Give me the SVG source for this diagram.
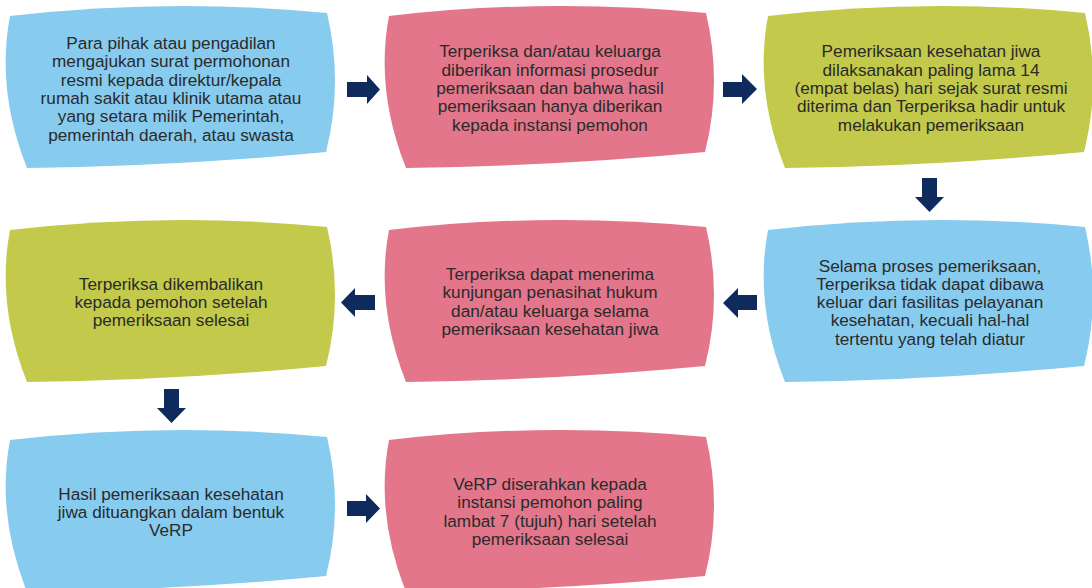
<svg xmlns="http://www.w3.org/2000/svg" xmlns:xlink="http://www.w3.org/1999/xlink" width="1092" height="588" viewBox="0 0 1092 588">
<style>
.blue{fill:#87CBEF}
.pink{fill:#E3768A}
.green{fill:#C2C94B}
.arrow{fill:#0F2B5D}
text{font-family:"Liberation Sans",Arial,sans-serif;font-size:17.2px;fill:#2A2A2A;text-anchor:middle}
</style>
<defs>
<path id="card" d="M10,16 Q170,-2.5 327,13 Q343.5,83 326,152 Q180,166 27,168 Q-4,90 10,16 Z"/>
</defs>
<rect width="1092" height="588" fill="#FFFFFF"/>
<g id="connectors">
<polygon class="arrow" points="347,82 367,82 367,75 380,89.5 367,104 367,97 347,97"/>
<polygon class="arrow" points="723,82 742,82 742,74 757,89 742,104 742,97 723,97"/>
<polygon class="arrow" points="922,178 937,178 937,197 944,197 929.5,212 915,197 922,197"/>
<polygon class="arrow" points="757,295 738,295 738,288 723,303 738,318 738,310 757,310"/>
<polygon class="arrow" points="375,295 355,295 355,288 341,302.5 355,317 355,310 375,310"/>
<polygon class="arrow" points="164,389 179,389 179,408 186,408 171.5,423 157,408 164,408"/>
<polygon class="arrow" points="347,501 366,501 366,494 380,508.5 366,523 366,516 347,516"/>
</g>
<g id="node1">
<use xlink:href="#card" class="blue"/>
<text x="171" y="49">Para pihak atau pengadilan</text>
<text x="171" y="67.3">mengajukan surat permohonan</text>
<text x="171" y="85.6">resmi kepada direktur/kepala</text>
<text x="171" y="104">rumah sakit atau klinik utama atau</text>
<text x="171" y="122.3">yang setara milik Pemerintah,</text>
<text x="171" y="140.6">pemerintah daerah, atau swasta</text>
</g>
<g id="node2">
<use xlink:href="#card" class="pink" transform="translate(379,0)"/>
<text x="550" y="57.3">Terperiksa dan/atau keluarga</text>
<text x="550" y="75.6">diberikan informasi prosedur</text>
<text x="550" y="93.9">pemeriksaan dan bahwa hasil</text>
<text x="550" y="112.2">pemeriksaan hanya diberikan</text>
<text x="550" y="130.5">kepada instansi pemohon</text>
</g>
<g id="node3">
<use xlink:href="#card" class="green" transform="translate(758,0)"/>
<text x="931" y="57.3">Pemeriksaan kesehatan jiwa</text>
<text x="931" y="75.6">dilaksanakan paling lama 14</text>
<text x="931" y="93.9">(empat belas) hari sejak surat resmi</text>
<text x="931" y="112.2">diterima dan Terperiksa hadir untuk</text>
<text x="931" y="130.5">melakukan pemeriksaan</text>
</g>
<g id="node4">
<use xlink:href="#card" class="green" transform="translate(0,214)"/>
<text x="171" y="289.5">Terperiksa dikembalikan</text>
<text x="171" y="307.8">kepada pemohon setelah</text>
<text x="171" y="326.1">pemeriksaan selesai</text>
</g>
<g id="node5">
<use xlink:href="#card" class="pink" transform="translate(379,214)"/>
<text x="550" y="280">Terperiksa dapat menerima</text>
<text x="550" y="298.3">kunjungan penasihat hukum</text>
<text x="550" y="316.6">dan/atau keluarga selama</text>
<text x="550" y="334.9">pemeriksaan kesehatan jiwa</text>
</g>
<g id="node6">
<use xlink:href="#card" class="blue" transform="translate(758,214)"/>
<text x="930" y="271.5">Selama proses pemeriksaan,</text>
<text x="930" y="289.8">Terperiksa tidak dapat dibawa</text>
<text x="930" y="308.1">keluar dari fasilitas pelayanan</text>
<text x="930" y="326.4">kesehatan, kecuali hal-hal</text>
<text x="930" y="344.7">tertentu yang telah diatur</text>
</g>
<g id="node7">
<use xlink:href="#card" class="blue" transform="translate(0,424)"/>
<text x="171" y="499.5">Hasil pemeriksaan kesehatan</text>
<text x="171" y="517.8">jiwa dituangkan dalam bentuk</text>
<text x="171" y="536.1">VeRP</text>
</g>
<g id="node8">
<use xlink:href="#card" class="pink" transform="translate(379,424)"/>
<text x="550" y="490">VeRP diserahkan kepada</text>
<text x="550" y="508.3">instansi pemohon paling</text>
<text x="550" y="526.6">lambat 7 (tujuh) hari setelah</text>
<text x="550" y="544.9">pemeriksaan selesai</text>
</g>
</svg>
